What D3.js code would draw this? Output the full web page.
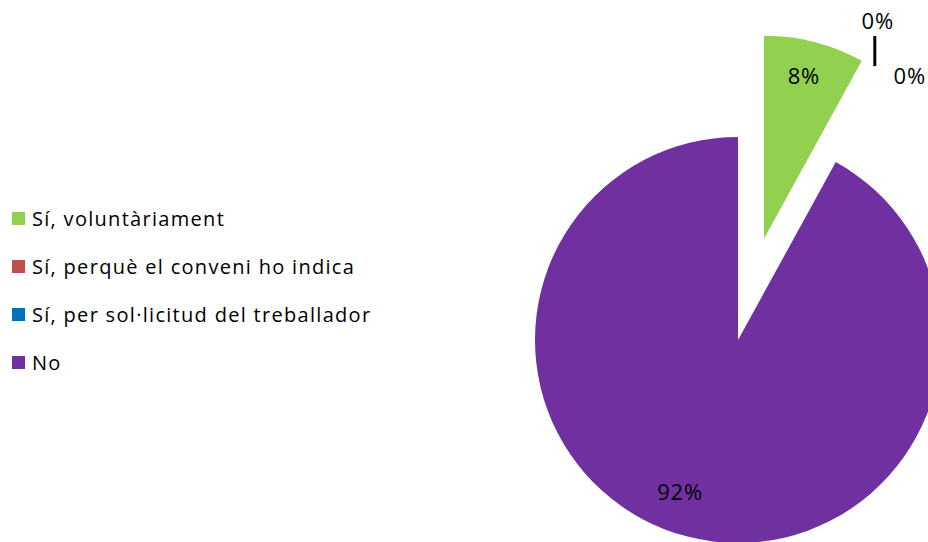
<!DOCTYPE html>
<html><head><meta charset="utf-8">
<script src="https://cdn.jsdelivr.net/npm/d3@7"></script>
<style>body{margin:0;background:#fff}svg{display:block}text{font-family:"Open Sans",sans-serif}</style>
</head><body>
<svg id="c" width="928" height="542"></svg>
<script>
const categories = ["Sí, voluntàriament", "Sí, perquè el conveni ho indica", "Sí, per sol·licitud del treballador", "No"];
const values = [8, 0, 0, 92];
const labels = ["8%", "0%", "0%", "92%"];
const colors = ["#92D050", "#C0504D", "#0070C0", "#7030A0"];
const explode = [0.515, 0, 0, 0];

const svg = d3.select("#c");
const cx = 738, cy = 340, r = 203;

const pie = d3.pie().sort(null).value(d => d)(values);
const arc = d3.arc().innerRadius(0).outerRadius(r);
const labelArc = d3.arc().innerRadius(r * 0.83).outerRadius(r * 0.83);

const g = svg.append("g").attr("transform", `translate(${cx},${cy})`);
pie.forEach((p, i) => {
  const mid = (p.startAngle + p.endAngle) / 2;
  const off = explode[i] * r;
  p.dx = off * Math.sin(mid); p.dy = -off * Math.cos(mid);
  if (p.value > 0) {
    g.append("path").attr("d", arc(p)).attr("fill", colors[i])
      .attr("transform", `translate(${p.dx},${p.dy})`);
  }
});

const labelStyle = t => t.attr("text-anchor", "middle").attr("dominant-baseline", "central")
  .attr("font-size", 22).attr("letter-spacing", "0.8px").attr("fill", "#000");

// inside labels
const nudges = [[-2, -1], null, null, [-16, -12]];
pie.forEach((p, i) => {
  if (p.value > 0) {
    const [x, y] = labelArc.centroid(p);
    g.append("text").attr("x", x + p.dx + nudges[i][0]).attr("y", y + p.dy + nudges[i][1])
      .call(labelStyle).text(labels[i]);
  }
});

// zero-value labels outside, with leader
const ang = pie[1].startAngle;
const ax = r * Math.sin(ang), ay = -r * Math.cos(ang);
const baseX = ax + 39, baseY = ay - 111;
g.append("line").attr("x1", baseX).attr("x2", baseX).attr("y1", baseY - 15).attr("y2", baseY + 15)
  .attr("stroke", "#000").attr("stroke-width", 3);
g.append("text").attr("x", baseX + 3).attr("y", baseY - 31).call(labelStyle).text(labels[1]);
g.append("text").attr("x", baseX + 35).attr("y", baseY + 24).call(labelStyle).text(labels[2]);

// legend
const y = d3.scalePoint().domain(categories).range([218.5, 362.5]);
const lg = svg.append("g");
categories.forEach((c, i) => {
  lg.append("rect").attr("x", 12).attr("y", y(c) - 6.5).attr("width", 13).attr("height", 13).attr("fill", colors[i]);
  lg.append("text").attr("x", 32).attr("y", y(c)).attr("dominant-baseline", "central")
    .attr("font-size", 20).attr("letter-spacing", "1.3px").attr("fill", "#000").text(c);
});
</script>
</body></html>
